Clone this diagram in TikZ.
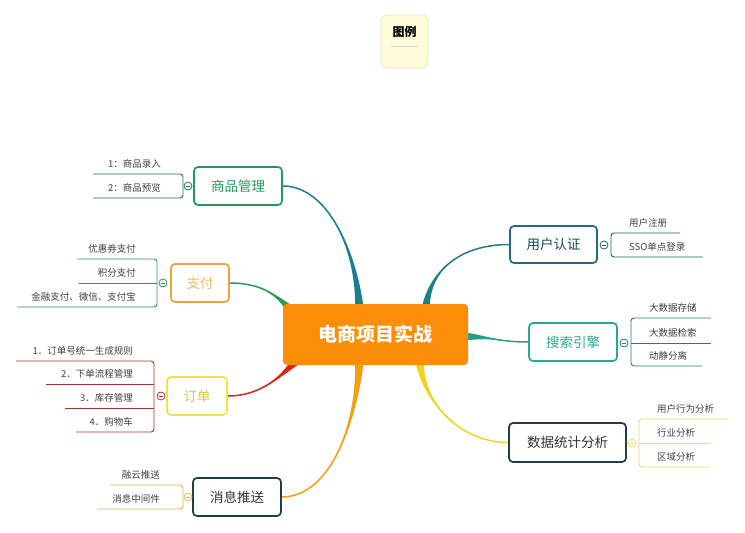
\documentclass[tikz,border=0pt]{standalone}
\usepackage{fontspec}
\setmainfont{Noto Sans CJK SC}
\usetikzlibrary{calc,backgrounds}
\definecolor{pmC}{HTML}{1F9A5C}
\definecolor{pmL}{HTML}{22705F}
\definecolor{payC}{HTML}{E9A53C}
\definecolor{payL}{HTML}{2A9A58}
\definecolor{ordC}{HTML}{F0E04A}
\definecolor{ordL}{HTML}{A8382A}
\definecolor{msgC}{HTML}{1F3C4C}
\definecolor{msgL}{HTML}{E2B262}
\definecolor{uaC}{HTML}{1D6E78}
\definecolor{uaL}{HTML}{1D5F6A}
\definecolor{seC}{HTML}{2AA890}
\definecolor{seL}{HTML}{1F7F78}
\definecolor{dsC}{HTML}{283A48}
\definecolor{dsL}{HTML}{EEDA60}
\definecolor{center}{HTML}{FC8D06}
\definecolor{legF}{HTML}{FEFCD9}
\definecolor{legD}{HTML}{ECE6B8}
\definecolor{k1}{HTML}{18808F}
\definecolor{k3}{HTML}{D8261C}
\definecolor{k4}{HTML}{F3A014}
\definecolor{k5}{HTML}{1E8086}
\definecolor{k6}{HTML}{22A08F}
\definecolor{k7}{HTML}{F2D21C}
\newcommand\mytaper[6]{%
  \fill[#1] (#2) .. controls #3 and #4 .. ($(#5)+(#6)$) -- ($(#5)-(#6)$) .. controls #4 and #3 .. (#2) -- cycle;
  \draw[#1,line width=1.5pt] (#2) .. controls #3 and #4 .. (#5);}
\begin{document}
\begin{tikzpicture}[x=1pt,y=-1pt,
  box/.style={draw, rounded corners=4pt, line width=1.7pt, fill=white, inner sep=0pt,
    font=\fontsize{13.5}{15}\selectfont},
  sub/.style={inner sep=0pt, font=\fontsize{9.5}{11}\selectfont, text=black!75},
  brk/.style={line width=0.9pt, rounded corners=3pt},
  tog/.style={circle, draw, fill=white, line width=0.8pt, minimum size=8pt, inner sep=0pt},
]
\useasboundingbox (0,0) rectangle (745,533);

% legend
\node[draw=legD, fill=legF, rounded corners=6pt,
  minimum width=47pt, minimum height=53pt, line width=0.6pt] (lg) at (404.5,41.5) {};
\node[font=\bfseries\fontsize{12}{14}\selectfont, inner sep=0pt] (lgt) at (404.5,32) {图例};
\draw[black!15, line width=0.5pt] ($(lg.west)+(10,5)$) -- ($(lg.east)+(-10,5)$);

% center
\node[fill=center, rounded corners=4pt, minimum width=185pt, minimum height=61pt, inner sep=0pt,
  text=white, font=\bfseries\fontsize{19}{22}\selectfont] (c) at (375.5,334.5) {电商项目实战};

% main boxes
\node[box, draw=pmC, text=pmC, minimum width=88pt, minimum height=38pt] (pm) at (238,186) {商品管理};
\node[box, draw=payC, text=payC!80, minimum width=58pt, minimum height=38pt] (pay) at (200,283) {支付};
\node[box, draw=ordC, text=ordC!90!black, minimum width=60pt, minimum height=38pt] (ord) at (197,396) {订单};
\node[box, draw=msgC, text=black!80, minimum width=88pt, minimum height=38pt] (msg) at (237,497) {消息推送};
\node[box, draw=uaC, text=uaC!70!black, minimum width=87pt, minimum height=37pt] (ua) at (553.5,244.5) {用户认证};
\node[box, draw=seC, text=seC, minimum width=88pt, minimum height=38pt] (se) at (573,342) {搜索引擎};
\node[box, draw=dsC, text=black!80, minimum width=117pt, minimum height=39pt] (ds) at (567.5,442.5) {数据统计分析};

% connectors
\begin{scope}[on background layer]
\fill[white] (0,0) rectangle (745,533);
\coordinate (e1) at ($(c.north)+(-16,8)$);
\coordinate (e2) at ($(c.north west)+(10,8)$);
\coordinate (e3) at ($(c.south west)+(15,-6)$);
\coordinate (e4) at ($(c.south)+(-16,-6)$);
\coordinate (e5) at ($(c.north)+(50,8)$);
\coordinate (e6) at ($(c.east)+(-6,2)$);
\coordinate (e7) at ($(c.south)+(44,-6)$);
\mytaper{k1}{pm.east}{($(pm.east)+(45,0)$)}{($(e1)+(-2,-60)$)}{e1}{4.5,0}
\mytaper{payL}{pay.east}{($(pay.east)+(35,0)$)}{($(e2)+(-14,-14)$)}{e2}{3.5,-3.5}
\mytaper{k3}{ord.east}{($(ord.east)+(35,0)$)}{($(e3)+(-14,14)$)}{e3}{3.5,3.5}
\mytaper{k4}{msg.east}{($(msg.east)+(50,0)$)}{($(e4)+(-2,60)$)}{e4}{4.5,0}
\mytaper{k5}{ua.west}{($(ua.west)+(-50,0)$)}{($(e5)+(2,-40)$)}{e5}{4.5,0}
\mytaper{k6}{se.west}{($(se.west)+(-30,0)$)}{($(e6)+(30,0)$)}{e6}{0,4.5}
\mytaper{k7}{ds.west}{($(ds.west)+(-50,0)$)}{($(e7)+(2,40)$)}{e7}{4.5,0}
\end{scope}

% ---------- 商品管理 ----------
\draw[brk, pmL] (93,174) -- (183,174) -- (183,198) -- (93,198);
\node[tog, draw=pmL] (pmt) at (188,186) {};
\draw[pmL, line width=0.7pt] ($(pmt)+(-2,0)$) -- ($(pmt)+(2,0)$);
\node[sub, anchor=east] (pm1) at (161,164) {1：商品录入};
\node[sub, anchor=east] (pm2) at (161,188) {2：商品预览};

% ---------- 支付 ----------
\draw[brk, payL] (77,259) -- (157,259) -- (157,307) -- (17,307);
\draw[payL, line width=0.9pt] (79,283) -- (157,283);
\node[tog, draw=payL] (payt) at (163,283) {};
\draw[payL, line width=0.7pt] ($(payt)+(-2,0)$) -- ($(payt)+(2,0)$);
\node[sub, anchor=east] (pay1) at (136,249) {优惠券支付};
\node[sub, anchor=east] (pay2) at (136,273) {积分支付};
\node[sub, anchor=east] (pay3) at (136,297) {金融支付、微信、支付宝};

% ---------- 订单 ----------
\draw[brk, ordL] (16,361) -- (154,361) -- (154,432) -- (76,432);
\draw[ordL, line width=0.9pt] (46,384) -- (154,384);
\draw[ordL, line width=0.9pt] (65,408) -- (154,408);
\node[tog, draw=ordL] (ordt) at (161,396) {};
\draw[ordL, line width=0.7pt] ($(ordt)+(-2,0)$) -- ($(ordt)+(2,0)$);
\node[sub, anchor=east] (ord1) at (133,351) {1．订单号统一生成规则};
\node[sub, anchor=east] (ord2) at (133,374) {2．下单流程管理};
\node[sub, anchor=east] (ord3) at (133,398) {3．库存管理};
\node[sub, anchor=east] (ord4) at (133,422) {4．购物车};

% ---------- 消息推送 ----------
\draw[brk, msgL] (110,485) -- (183,485) -- (183,509) -- (97,509);
\node[tog, draw=msgL] (msgt) at (188,497) {};
\draw[msgL, line width=0.7pt] ($(msgt)+(-2,0)$) -- ($(msgt)+(2,0)$);
\node[sub, anchor=east] (msg1) at (160,475) {融云推送};
\node[sub, anchor=east] (msg2) at (160,499) {消息中间件};

% ---------- 用户认证 ----------
\draw[brk, uaL] (680,233) -- (611,233) -- (611,257) -- (703,257);
\node[tog, draw=uaL] (uat) at (604,245) {};
\draw[uaL, line width=0.7pt] ($(uat)+(-2,0)$) -- ($(uat)+(2,0)$);
\node[sub, anchor=west] (ua1) at (629,223) {用户注册};
\node[sub, anchor=west] (ua2) at (629,247) {SSO单点登录};

% ---------- 搜索引擎 ----------
\draw[brk, seL] (711,318) -- (631,318) -- (631,366) -- (702,366);
\draw[seL, line width=0.9pt] (631,343) -- (711,343);
\node[tog, draw=seL] (set) at (624,343) {};
\draw[seL, line width=0.7pt] ($(set)+(-2,0)$) -- ($(set)+(2,0)$);
\node[sub, anchor=west] (se1) at (649,308) {大数据存储};
\node[sub, anchor=west] (se2) at (649,333) {大数据检索};
\node[sub, anchor=west] (se3) at (649,356) {动静分离};

% ---------- 数据统计分析 ----------
\draw[brk, dsL] (728,419) -- (639,419) -- (639,467) -- (710,467);
\draw[dsL, line width=0.9pt] (639,443) -- (710,443);
\node[tog, draw=dsL] (dst) at (632,443) {};
\draw[dsL, line width=0.7pt] ($(dst)+(-2,0)$) -- ($(dst)+(2,0)$);
\node[sub, anchor=west] (ds1) at (657,409) {用户行为分析};
\node[sub, anchor=west] (ds2) at (657,433) {行业分析};
\node[sub, anchor=west] (ds3) at (657,457) {区域分析};
\end{tikzpicture}
\end{document}
